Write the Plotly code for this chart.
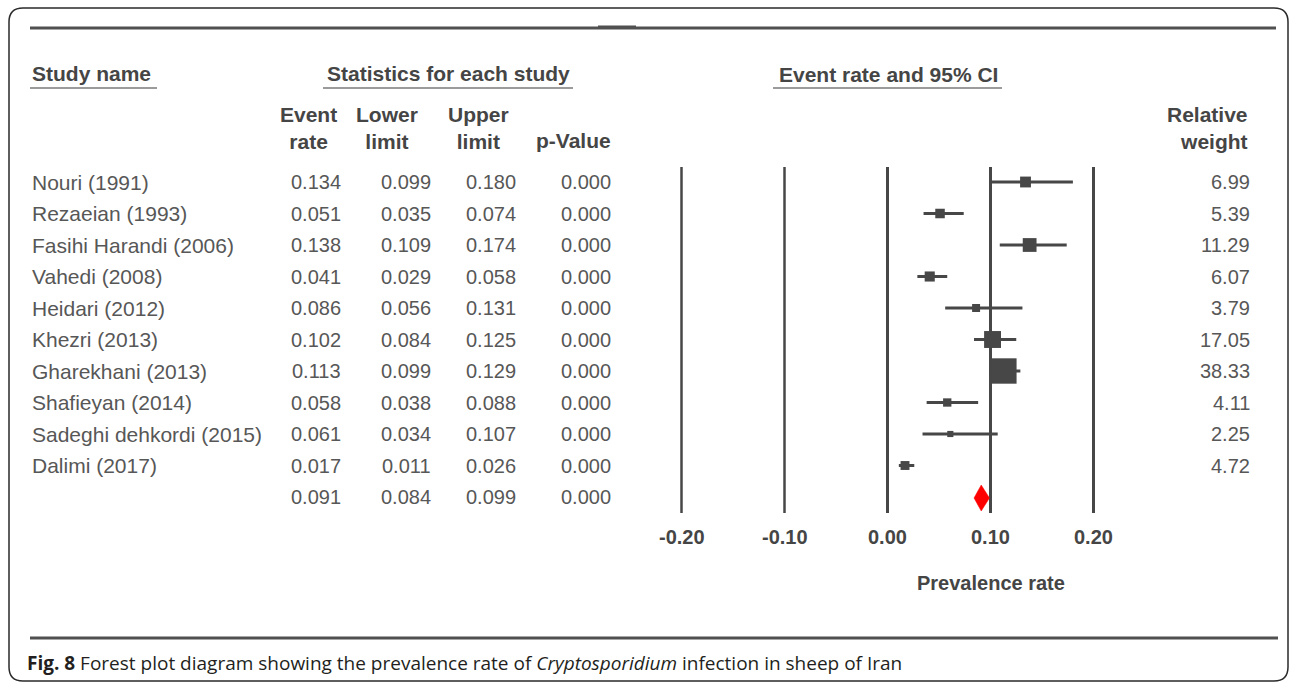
import plotly.graph_objects as go

# ---- study data -------------------------------------------------------------
studies = [
    "Nouri (1991)", "Rezaeian (1993)", "Fasihi Harandi (2006)", "Vahedi (2008)",
    "Heidari (2012)", "Khezri (2013)", "Gharekhani (2013)", "Shafieyan (2014)",
    "Sadeghi dehkordi (2015)", "Dalimi (2017)",
]
event_rate = [0.134, 0.051, 0.138, 0.041, 0.086, 0.102, 0.113, 0.058, 0.061, 0.017]
lower_limit = [0.099, 0.035, 0.109, 0.029, 0.056, 0.084, 0.099, 0.038, 0.034, 0.011]
upper_limit = [0.180, 0.074, 0.174, 0.058, 0.131, 0.125, 0.129, 0.088, 0.107, 0.026]
p_value = [0.000] * 10
rel_weight = [6.99, 5.39, 11.29, 6.07, 3.79, 17.05, 38.33, 4.11, 2.25, 4.72]

pooled_rate = 0.091
pooled_lower = 0.084
pooled_upper = 0.099
pooled_p = 0.000

tick_vals = [-0.20, -0.10, 0.00, 0.10, 0.20]
tick_text = ["-0.20", "-0.10", "0.00", "0.10", "0.20"]

# ---- page geometry ----------------------------------------------------------
W, H = 1290, 683
X_ZERO, PX_PER_UNIT = 887.5, 1030.0          # forest scale: pixel of 0 and px per unit
X_MIN = -X_ZERO / PX_PER_UNIT
X_MAX = (W - X_ZERO) / PX_PER_UNIT
ROW0, ROW_STEP = 182.0, 31.5


def dx(px):
    """page pixel -> forest axis value"""
    return (px - X_ZERO) / PX_PER_UNIT


def row_y(i):
    return ROW0 + ROW_STEP * i


FONT = "Liberation Sans, Arial, sans-serif"
TXT = "#575757"
HDR = "#454545"
INK = "#474747"

fig = go.Figure()

# vertical reference lines at each tick
line_top, line_bot = 167, 513
for i, v in enumerate(tick_vals):
    fig.add_trace(go.Scatter(
        x=[v, v], y=[line_top, line_bot], mode="lines",
        line=dict(color=INK, width=2.5 if v < 0 else 3),
        hoverinfo="skip", showlegend=False))

# confidence intervals
ci_x, ci_y = [], []
for i in range(len(studies)):
    ci_x += [lower_limit[i], upper_limit[i], None]
    ci_y += [row_y(i), row_y(i), None]
fig.add_trace(go.Scatter(x=ci_x, y=ci_y, mode="lines",
                         line=dict(color=INK, width=3),
                         hoverinfo="skip", showlegend=False))

# point estimates, square size by relative weight
sizes = [4.1 * w ** 0.5 for w in rel_weight]
fig.add_trace(go.Scatter(
    x=event_rate, y=[row_y(i) for i in range(len(studies))], mode="markers",
    marker=dict(symbol="square", size=sizes, color=INK, opacity=1, line=dict(width=0)),
    text=studies, hovertemplate="%{text}: %{x:.3f}<extra></extra>",
    showlegend=False))

# pooled estimate diamond
yp = row_y(len(studies)) + 1
half_h = 13
fig.add_trace(go.Scatter(
    x=[pooled_lower, pooled_rate, pooled_upper, pooled_rate, pooled_lower],
    y=[yp, yp - half_h, yp, yp + half_h, yp],
    mode="lines", fill="toself", fillcolor="#ff0000",
    line=dict(color="#ff0000", width=0.5),
    hoverinfo="skip", showlegend=False))

annotations = []


def text(x_px, y_px, s, anchor="left", size=20, bold=False, color=TXT, family=FONT):
    annotations.append(dict(
        x=dx(x_px), y=y_px, xref="x", yref="y", text=s, showarrow=False,
        xanchor=anchor, yanchor="middle", align="center" if anchor == "center" else anchor,
        font=dict(family=family, size=size, color=color,
                  weight="bold" if bold else "normal")))


# column headers
text(30, 73, "Study name", size=21, bold=True, color=HDR)
text(448, 73, "Statistics for each study", "center", size=21, bold=True, color=HDR)
text(888, 74, "Event rate and 95% CI", "center", size=21, bold=True, color=HDR)
text(308, 128, "Event<br>rate", "center", size=21, bold=True, color=HDR)
text(387, 128, "Lower<br>limit", "center", size=21, bold=True, color=HDR)
text(478, 128, "Upper<br>limit", "center", size=21, bold=True, color=HDR)
text(573, 140, "p-Value", "center", size=21, bold=True, color=HDR)
text(1250, 128, "Relative<br>weight", "right", size=21, bold=True, color=HDR)

# table rows
col_right = [343, 433, 518, 613]
for i, name in enumerate(studies):
    y = row_y(i)
    text(30, y, name, size=21)
    for xr, val in zip(col_right, [event_rate[i], lower_limit[i], upper_limit[i], p_value[i]]):
        text(xr, y, f"{val:.3f}", "right")
    text(1252, y, f"{rel_weight[i]:.2f}", "right")

yp_row = row_y(len(studies))
for xr, val in zip(col_right, [pooled_rate, pooled_lower, pooled_upper, pooled_p]):
    text(xr, yp_row, f"{val:.3f}", "right")

# axis tick labels and title
for v, t in zip(tick_vals, tick_text):
    annotations.append(dict(x=v, y=537, xref="x", yref="y", text=t, showarrow=False,
                            xanchor="center", yanchor="middle",
                            font=dict(family=FONT, size=20, color=HDR, weight="bold")))
annotations.append(dict(x=0.10, y=583, xref="x", yref="y", text="Prevalence rate",
                        showarrow=False, xanchor="center", yanchor="middle",
                        font=dict(family=FONT, size=20, color=HDR, weight="bold")))

# figure caption
annotations.append(dict(
    x=dx(25), y=663, xref="x", yref="y", showarrow=False, xanchor="left", yanchor="middle",
    text="<b>Fig. 8</b> Forest plot diagram showing the prevalence rate of "
         "<i>Cryptosporidium</i> infection in sheep of Iran",
    font=dict(family="Open Sans, sans-serif", size=19, color="#231f20")))

shapes = []


def hline(x0, x1, y, width, color):
    shapes.append(dict(type="line", xref="x", yref="y", x0=dx(x0), x1=dx(x1), y0=y, y1=y,
                       line=dict(color=color, width=width)))


hline(30, 1276, 28, 3, "#505050")       # top rule
hline(598, 636, 26.5, 2, "#505050")     # small tab on the top rule
hline(30, 1278, 638, 3, "#505050")      # bottom rule
hline(30, 157, 88, 1.5, "#7a7a7a")      # header underlines
hline(323, 573, 88, 1.5, "#7a7a7a")
hline(773, 1002, 88, 1.5, "#7a7a7a")

# rounded outer frame
x0, y0, x1, y1, r = 9, 8, 1288, 681, 14
path = (f"M {dx(x0 + r)},{y0} L {dx(x1 - r)},{y0} Q {dx(x1)},{y0} {dx(x1)},{y0 + r} "
        f"L {dx(x1)},{y1 - r} Q {dx(x1)},{y1} {dx(x1 - r)},{y1} "
        f"L {dx(x0 + r)},{y1} Q {dx(x0)},{y1} {dx(x0)},{y1 - r} "
        f"L {dx(x0)},{y0 + r} Q {dx(x0)},{y0} {dx(x0 + r)},{y0} Z")
shapes.append(dict(type="path", xref="x", yref="y", path=path,
                   line=dict(color="#2a2a2a", width=1.5)))

fig.update_layout(
    width=W, height=H, margin=dict(l=0, r=0, t=0, b=0),
    paper_bgcolor="white", plot_bgcolor="white",
    xaxis=dict(range=[X_MIN, X_MAX], visible=False, fixedrange=True),
    yaxis=dict(range=[H, 0], visible=False, fixedrange=True),
    annotations=annotations, shapes=shapes, showlegend=False,
)

fig.write_html("out.html")
